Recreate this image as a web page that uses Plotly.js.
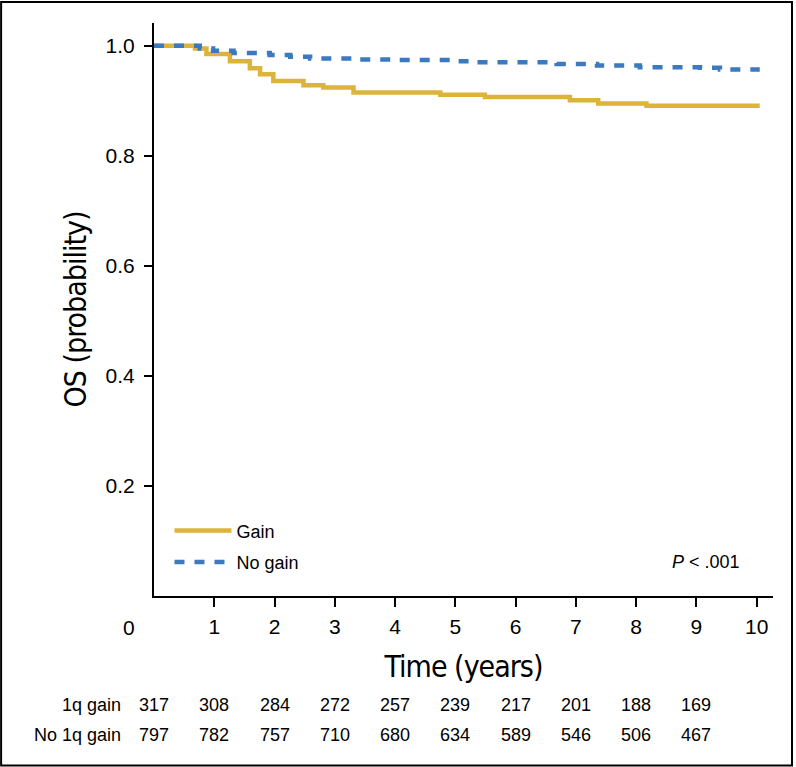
<!DOCTYPE html>
<html>
<head>
<meta charset="utf-8">
<script src="https://cdn.plot.ly/plotly-3.0.1.min.js"></script>
<style>
  html, body { margin: 0; padding: 0; background: #fff; }
  #km { width: 796px; height: 767px; }
  /* axis titles in the original use a condensed face */
  #km .g-xtitle text, #km .g-ytitle text { font-stretch: condensed; letter-spacing: -1px; }
</style>
</head>
<body>
<div id="km"></div>
<script>
// Kaplan-Meier steps (years, OS probability)
var gainTime = [0, 0.68, 0.87, 1.26, 1.59, 1.76, 1.98, 2.48, 2.81, 3.31, 4.75, 5.49, 6.90, 7.37, 8.17, 10.05];
var gainProb = [1.0, 0.995, 0.985, 0.972, 0.959, 0.948, 0.936, 0.928, 0.924, 0.915, 0.911, 0.907, 0.901, 0.895, 0.891, 0.891];

var noGainTime = [0, 0.76, 0.98, 1.32, 1.92, 2.26, 2.59, 3.30, 4.00, 4.99, 5.30, 6.68, 7.35, 8.06, 9.06, 9.39, 10.05];
var noGainProb = [1.0, 0.995, 0.991, 0.987, 0.983, 0.980, 0.977, 0.975, 0.974, 0.972, 0.970, 0.967, 0.964, 0.961, 0.960, 0.957, 0.957];

// numbers at risk
var riskYears = [0, 1, 2, 3, 4, 5, 6, 7, 8, 9];
var riskGain = [317, 308, 284, 272, 257, 239, 217, 201, 188, 169];
var riskNoGain = [797, 782, 757, 710, 680, 634, 589, 546, 506, 467];

var xTicks = [1, 2, 3, 4, 5, 6, 7, 8, 9, 10];
var yTicks = [0.2, 0.4, 0.6, 0.8, 1.0];
var yTickText = ['0.2', '0.4', '0.6', '0.8', '1.0'];

var gold = '#DDB43A';
var blue = '#3B79C0';
var plain = 'Liberation Sans, Arial, Helvetica, sans-serif';
var narrow = 'DejaVu Sans, sans-serif';

var traces = [
  {
    x: gainTime, y: gainProb, name: 'Gain', legendgroup: 'a',
    type: 'scatter', mode: 'lines', line: {color: gold, width: 4.5, shape: 'hv'}
  },
  {
    x: noGainTime, y: noGainProb, name: 'No gain', legendgroup: 'b',
    type: 'scatter', mode: 'lines', line: {color: blue, width: 4.5, shape: 'hv', dash: '10px,10px'}
  }
];

var notes = [];
riskYears.forEach(function (yr, i) {
  notes.push({x: yr, y: -0.191, xref: 'x', yref: 'paper', text: String(riskGain[i]),
    showarrow: false, xanchor: 'center', yanchor: 'middle', font: {family: plain, size: 18, color: '#000'}});
  notes.push({x: yr, y: -0.243, xref: 'x', yref: 'paper', text: String(riskNoGain[i]),
    showarrow: false, xanchor: 'center', yanchor: 'middle', font: {family: plain, size: 18, color: '#000'}});
});
notes.push({x: -0.05, y: -0.191, xref: 'paper', yref: 'paper', text: '1q gain', showarrow: false,
  xanchor: 'right', yanchor: 'middle', font: {family: plain, size: 18, color: '#000'}});
notes.push({x: -0.05, y: -0.243, xref: 'paper', yref: 'paper', text: 'No 1q gain', showarrow: false,
  xanchor: 'right', yanchor: 'middle', font: {family: plain, size: 18, color: '#000'}});
notes.push({x: -0.040, y: -0.0547, xref: 'paper', yref: 'paper', text: '0', showarrow: false,
  xanchor: 'center', yanchor: 'middle', font: {family: plain, size: 21, color: '#000'}});
notes.push({x: 0.950, y: 0.0588, xref: 'paper', yref: 'paper', text: '<i>P</i> < .001', showarrow: false,
  xanchor: 'right', yanchor: 'middle', font: {family: plain, size: 18, color: '#000'}});

var layout = {
  width: 796,
  height: 767,
  margin: {l: 154, r: 23, t: 23, b: 171},
  paper_bgcolor: '#fff',
  plot_bgcolor: '#fff',
  showlegend: true,
  legend: {
    x: 0.025, y: 0.146, xanchor: 'left', yanchor: 'top',
    font: {family: plain, size: 18, color: '#000'},
    bgcolor: 'rgba(0,0,0,0)', traceorder: 'grouped', tracegroupgap: 5,
    itemwidth: 57
  },
  xaxis: {
    range: [0, 10.27],
    tickvals: xTicks,
    ticks: 'outside', ticklen: 9, tickwidth: 2, tickcolor: '#000',
    showline: true, linecolor: '#000', linewidth: 2,
    showgrid: false, zeroline: false,
    ticklabelstandoff: 2,
    tickfont: {family: plain, size: 21, color: '#000'},
    title: {text: 'Time (years)', standoff: 19, font: {family: narrow, size: 30, color: '#000'}}
  },
  yaxis: {
    range: [0, 1.0413],
    tickvals: yTicks, ticktext: yTickText,
    ticks: 'outside', ticklen: 8, tickwidth: 2, tickcolor: '#000',
    showline: true, linecolor: '#000', linewidth: 2,
    showgrid: false, zeroline: false,
    ticklabelstandoff: 5,
    tickfont: {family: plain, size: 21, color: '#000'},
    title: {text: 'OS (probability)', standoff: 10, font: {family: narrow, size: 30, color: '#000'}}
  },
  annotations: notes,
  shapes: [
    {type: 'rect', xref: 'paper', yref: 'paper', x0: -0.247, x1: 1.0307, y0: -0.2956, y1: 1.0367,
      line: {color: '#000', width: 2}, fillcolor: 'rgba(0,0,0,0)'}
  ]
};

Plotly.newPlot('km', traces, layout, {displayModeBar: false, staticPlot: true});
</script>
</body>
</html>
